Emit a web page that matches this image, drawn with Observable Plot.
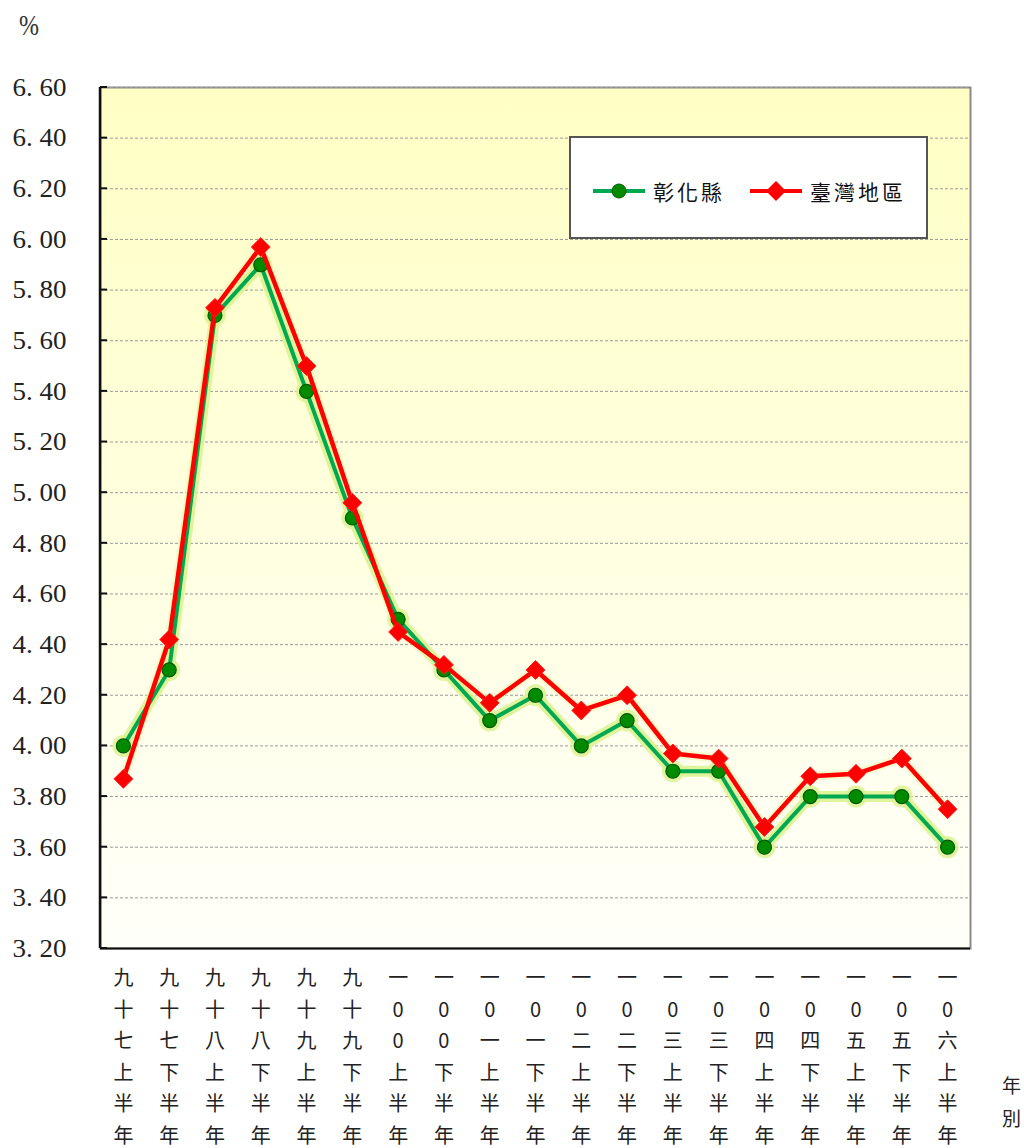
<!DOCTYPE html>
<html>
<head>
<meta charset="utf-8">
<script src="https://cdn.jsdelivr.net/npm/d3@7"></script>
<script src="https://cdn.jsdelivr.net/npm/@observablehq/plot@0.6"></script>
<style>
  body { margin: 0; background: #fff; }
  #wrap { position: relative; width: 1024px; height: 1148px; overflow: hidden; font-family: "Noto Sans CJK TC", sans-serif; }
  #pct { position: absolute; left: 19px; top: 8px; font-family: "Liberation Serif", "DejaVu Serif", serif; font-size: 30px; color: #333; transform: scaleX(0.8); transform-origin: left top; }
  #yearlab { position: absolute; left: 1002px; top: 1068px; font-size: 19px; line-height: 33px; width: 22px; color: #222; }
  #legend { position: absolute; left: 569px; top: 136px; width: 355px; height: 99px; background: #fff; border: 2px solid #555; }
  .item { position: absolute; top: 38px; display: flex; align-items: center; font-size: 21px; color: #111; }
</style>
</head>
<body>
<div id="wrap">
  <div id="chart"></div>
  <div id="pct">%</div>
  <div id="yearlab">年<br>別</div>
  <div id="legend"></div>
</div>
<script>
const periods = ["九十七上半年","九十七下半年","九十八上半年","九十八下半年","九十九上半年","九十九下半年",
  "一00上半年","一00下半年","一0一上半年","一0一下半年","一0二上半年","一0二下半年",
  "一0三上半年","一0三下半年","一0四上半年","一0四下半年","一0五上半年","一0五下半年","一0六上半年"];
const changhua = [4.00,4.30,5.70,5.90,5.40,4.90,4.50,4.30,4.10,4.20,4.00,4.10,3.90,3.90,3.60,3.80,3.80,3.80,3.60];
const taiwan   = [3.87,4.42,5.73,5.97,5.50,4.96,4.45,4.32,4.17,4.30,4.14,4.20,3.97,3.95,3.68,3.88,3.89,3.95,3.75];
const yTicks = [3.2,3.4,3.6,3.8,4.0,4.2,4.4,4.6,4.8,5.0,5.2,5.4,5.6,5.8,6.0,6.2,6.4,6.6];
const seriesNames = ["彰化縣","臺灣地區"];

const dataG = periods.map((p,i)=>({period:p, value:changhua[i]}));
const dataR = periods.map((p,i)=>({period:p, value:taiwan[i]}));

const defs = () => {
  const g = d3.create("svg:defs");
  const lg = g.append("linearGradient").attr("id","bg").attr("x1",0).attr("y1",0).attr("x2",0).attr("y2",1);
  lg.append("stop").attr("offset","0%").attr("stop-color","#ffffc4");
  lg.append("stop").attr("offset","100%").attr("stop-color","#fffffa");
  return g.node();
};

const chart = Plot.plot({
  width: 1024,
  height: 1148,
  marginLeft: 100,
  marginRight: 54,
  marginTop: 87,
  marginBottom: 200,
  style: {background: "transparent", overflow: "visible"},
  x: {type: "point", domain: periods, padding: 0.5, round: false},
  y: {domain: [3.2, 6.6]},
  marks: [
    defs,
    Plot.frame({fill: "url(#bg)", stroke: "#8a8a8a", strokeWidth: 2}),
    Plot.gridY(yTicks, {stroke: "#9a9a9a", strokeOpacity: 1, strokeDasharray: "3,2", strokeWidth: 1}),
    Plot.ruleY([3.2], {stroke: "#111", strokeWidth: 2}),
    Plot.axisY(yTicks, {
      tickSize: 0, tickPadding: 34,
      tickFormat: d => d.toFixed(2).replace(".", ". "),
      fontSize: 26, fill: "#222", label: null,
      fontFamily: "'Liberation Serif', 'DejaVu Serif', serif"
    }),
    Plot.axisX({
      tickSize: 0, tickPadding: 14,
      tickFormat: d => d.split("").join("\n"),
      lineHeight: 1.58, fontSize: 20, fill: "#222", label: null,
      fontFamily: "Noto Sans CJK TC, sans-serif"
    }),
    // glow
    Plot.line(dataG, {x: "period", y: "value", stroke: "#d9f28c", strokeWidth: 11, strokeOpacity: 0.85}),
    Plot.line(dataR, {x: "period", y: "value", stroke: "#e6f5a8", strokeWidth: 9, strokeOpacity: 0.45}),
    Plot.dot(dataG, {x: "period", y: "value", r: 11, fill: "#dcf294", fillOpacity: 0.85}),
    Plot.line(dataG, {x: "period", y: "value", stroke: "#00a850", strokeWidth: 4}),
    Plot.dot(dataG, {x: "period", y: "value", r: 7, fill: "#008a00", stroke: "#005a00", strokeWidth: 1.2}),
    Plot.line(dataR, {x: "period", y: "value", stroke: "#ff0000", strokeWidth: 4.5}),
    Plot.dot(dataR, {x: "period", y: "value", symbol: "diamond2", r: 8.5, fill: "#ff0000", stroke: "#ff2020", strokeWidth: 1})
  ]
});
document.getElementById("chart").appendChild(chart);

const svg = d3.select(chart);
svg.selectAll("g[aria-label='y-axis tick label'] text")
  .attr("textLength", 54).attr("lengthAdjust", "spacingAndGlyphs");

// left axis line and inward ticks
const yS = chart.scale("y");
const left = 100;
svg.append("line").attr("x1", left).attr("x2", left).attr("y1", yS.apply(6.6)).attr("y2", yS.apply(3.2))
  .attr("stroke", "#111").attr("stroke-width", 2.5);
svg.selectAll("line.ytk").data(yTicks).join("line").attr("class","ytk")
  .attr("x1", left).attr("x2", left + 7).attr("y1", d => yS.apply(d)).attr("y2", d => yS.apply(d))
  .attr("stroke", "#111").attr("stroke-width", 2);

// legend
const legend = d3.select("#legend");
const items = [
  {name: seriesNames[0], color: "#00a850", left: 20, marker: "circle"},
  {name: seriesNames[1], color: "#ff0000", left: 177, marker: "diamond"}
];
items.forEach(it => {
  const d = legend.append("div").attr("class","item").style("left", it.left + "px");
  const s = d.append("svg").attr("width", 56).attr("height", 24);
  s.append("line").attr("x1",2).attr("x2",54).attr("y1",12).attr("y2",12).attr("stroke", it.color).attr("stroke-width",4);
  if (it.marker === "circle") s.append("circle").attr("cx",28).attr("cy",12).attr("r",7).attr("fill","#008a00").attr("stroke","#005a00");
  else s.append("path").attr("d","M28,2 L38,12 L28,22 L18,12Z").attr("fill","#ff0000");
  d.append("span").style("margin-left","6px").style("letter-spacing","3px").text(it.name);
});
</script>
</body>
</html>
